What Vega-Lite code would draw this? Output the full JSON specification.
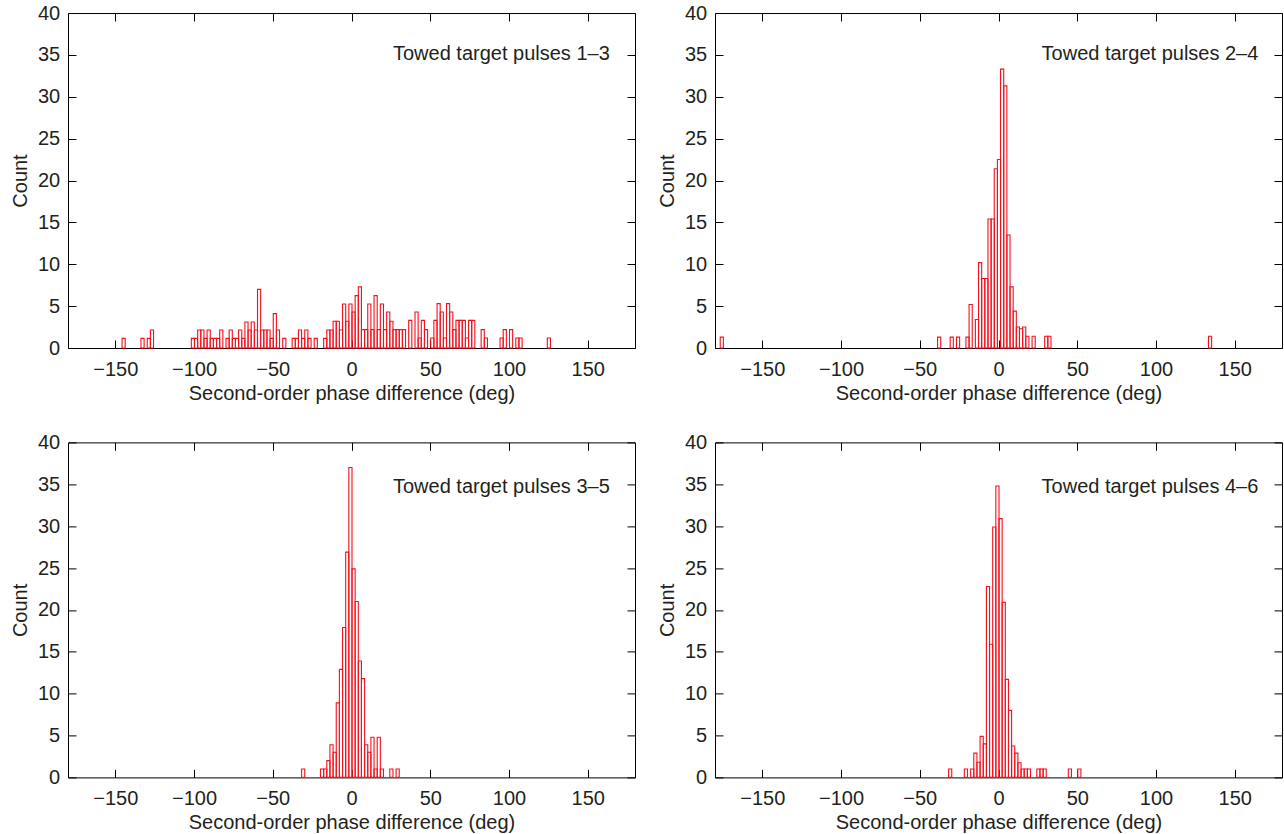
{
  "$schema": "https://vega.github.io/schema/vega-lite/v6.json",
  "background": "white",
  "padding": {"left": 9, "top": 2, "right": 0, "bottom": 0},
  "columns": 2,
  "spacing": {"row": 94.4, "column": 80},
  "bounds": "flush",
  "config": {
    "font": "Liberation Sans",
    "view": {"stroke": "#000000", "strokeWidth": 1},
    "axis": {
      "grid": false, "domain": false, "ticks": true,
      "tickColor": "#000000", "tickSize": 8, "tickWidth": 1, "offset": -8, "zindex": 1,
      "labelFont": "Liberation Sans", "labelFontSize": 20, "labelColor": "#231f20",
      "titleFont": "Liberation Sans", "titleFontSize": 20, "titleFontWeight": "normal", "titleColor": "#231f20"
    },
    "axisX": {"labelPadding": 11.5, "titlePadding": 4},
    "axisY": {"labelPadding": 8.3, "titlePadding": 7, "labelFlush": false}
  },
  "datasets": {
    "p1": [
      {"start": -146, "count": 1.15}, {"start": -134, "count": 1.15}, {"start": -130, "count": 1.15}, {"start": -128, "count": 2.15},
      {"start": -102, "count": 1.15}, {"start": -100, "count": 1.15}, {"start": -98, "count": 2.15}, {"start": -96, "count": 2.15},
      {"start": -94, "count": 1.15}, {"start": -92, "count": 2.15}, {"start": -90, "count": 1.15}, {"start": -88, "count": 1.15},
      {"start": -86, "count": 1.15}, {"start": -84, "count": 2.15}, {"start": -80, "count": 1.15}, {"start": -78, "count": 2.15},
      {"start": -76, "count": 1.15}, {"start": -74, "count": 1.15}, {"start": -72, "count": 2.15}, {"start": -70, "count": 1.15},
      {"start": -68, "count": 3.1}, {"start": -66, "count": 2.15}, {"start": -64, "count": 3.1}, {"start": -62, "count": 2.15},
      {"start": -60, "count": 7.0}, {"start": -58, "count": 2.15}, {"start": -56, "count": 2.15}, {"start": -54, "count": 2.15},
      {"start": -52, "count": 1.15}, {"start": -50, "count": 4.1}, {"start": -48, "count": 2.15}, {"start": -44, "count": 1.15},
      {"start": -38, "count": 1.15}, {"start": -36, "count": 1.15}, {"start": -34, "count": 2.15}, {"start": -32, "count": 1.15},
      {"start": -30, "count": 2.15}, {"start": -28, "count": 1.15}, {"start": -24, "count": 1.15},
      {"start": -18, "count": 1.15}, {"start": -16, "count": 2.15}, {"start": -14, "count": 2.15}, {"start": -12, "count": 3.2},
      {"start": -10, "count": 3.2}, {"start": -8, "count": 2.15}, {"start": -6, "count": 5.25}, {"start": -4, "count": 3.2},
      {"start": -2, "count": 5.25}, {"start": 0, "count": 4.3}, {"start": 2, "count": 6.25}, {"start": 4, "count": 7.3},
      {"start": 6, "count": 2.2}, {"start": 8, "count": 2.2}, {"start": 10, "count": 5.25}, {"start": 12, "count": 2.2},
      {"start": 14, "count": 6.25}, {"start": 16, "count": 2.2}, {"start": 18, "count": 5.25}, {"start": 20, "count": 2.2},
      {"start": 22, "count": 4.3}, {"start": 24, "count": 3.2}, {"start": 26, "count": 2.2}, {"start": 28, "count": 2.2},
      {"start": 30, "count": 2.2}, {"start": 32, "count": 2.2}, {"start": 36, "count": 3.3}, {"start": 40, "count": 4.3},
      {"start": 42, "count": 1.2}, {"start": 44, "count": 3.3}, {"start": 46, "count": 2.2}, {"start": 50, "count": 1.2},
      {"start": 52, "count": 3.3}, {"start": 54, "count": 5.3}, {"start": 56, "count": 4.3}, {"start": 58, "count": 1.2},
      {"start": 60, "count": 5.3}, {"start": 62, "count": 4.3}, {"start": 64, "count": 2.2}, {"start": 66, "count": 3.3},
      {"start": 68, "count": 3.3}, {"start": 70, "count": 3.3}, {"start": 72, "count": 1.2}, {"start": 74, "count": 3.3},
      {"start": 76, "count": 3.3}, {"start": 82, "count": 2.2}, {"start": 84, "count": 1.2}, {"start": 94, "count": 1.2},
      {"start": 96, "count": 2.2}, {"start": 100, "count": 2.2}, {"start": 104, "count": 1.2}, {"start": 106, "count": 1.2},
      {"start": 124, "count": 1.2}
    ],
    "p2": [
      {"start": -177, "count": 1.3}, {"start": -39, "count": 1.3}, {"start": -31, "count": 1.3}, {"start": -27, "count": 1.3},
      {"start": -21, "count": 1.3}, {"start": -19, "count": 5.2}, {"start": -15, "count": 3.4}, {"start": -13, "count": 10.2},
      {"start": -11, "count": 8.3}, {"start": -9, "count": 8.3}, {"start": -7, "count": 15.4}, {"start": -5, "count": 15.4},
      {"start": -3, "count": 21.4}, {"start": -1, "count": 22.5}, {"start": 1, "count": 33.3}, {"start": 3, "count": 31.3},
      {"start": 5, "count": 13.5}, {"start": 7, "count": 7.3}, {"start": 9, "count": 4.4}, {"start": 11, "count": 2.5},
      {"start": 13, "count": 2.3}, {"start": 15, "count": 2.5}, {"start": 17, "count": 1.4}, {"start": 21, "count": 1.4},
      {"start": 29, "count": 1.4}, {"start": 31, "count": 1.4}, {"start": 133, "count": 1.4}
    ],
    "p3": [
      {"start": -32, "count": 1}, {"start": -20, "count": 1}, {"start": -18, "count": 1}, {"start": -16, "count": 2},
      {"start": -14, "count": 3.9}, {"start": -12, "count": 3}, {"start": -10, "count": 8.9}, {"start": -8, "count": 12.9},
      {"start": -6, "count": 17.9}, {"start": -4, "count": 26.9}, {"start": -2, "count": 37}, {"start": 0, "count": 24.9},
      {"start": 2, "count": 21}, {"start": 4, "count": 13.9}, {"start": 6, "count": 11.8}, {"start": 8, "count": 3.9},
      {"start": 10, "count": 3}, {"start": 12, "count": 4.8}, {"start": 14, "count": 1}, {"start": 16, "count": 4.8},
      {"start": 18, "count": 1}, {"start": 24, "count": 1}, {"start": 28, "count": 1}
    ],
    "p4": [
      {"start": -32, "count": 1}, {"start": -22, "count": 1}, {"start": -18, "count": 1}, {"start": -16, "count": 2.9},
      {"start": -14, "count": 1.8}, {"start": -12, "count": 4.9}, {"start": -10, "count": 4.0}, {"start": -8, "count": 22.8},
      {"start": -6, "count": 15.9}, {"start": -4, "count": 29.9}, {"start": -2, "count": 34.8}, {"start": 0, "count": 30.9},
      {"start": 2, "count": 20.9}, {"start": 4, "count": 11.7}, {"start": 6, "count": 8.0}, {"start": 8, "count": 3.75},
      {"start": 10, "count": 2.9}, {"start": 12, "count": 1.75}, {"start": 14, "count": 1}, {"start": 16, "count": 1},
      {"start": 18, "count": 1}, {"start": 24, "count": 1}, {"start": 26, "count": 1}, {"start": 28, "count": 1},
      {"start": 44, "count": 1}, {"start": 50, "count": 1}
    ]
  },
  "concat": [
    {
      "width": 567, "height": 335,
      "layer": [
        {
          "data": {"name": "p1"},
          "mark": {"type": "bar", "filled": false, "color": "#f5101c", "strokeWidth": 1.1, "binSpacing": 0},
          "encoding": {
            "x": {"field": "start", "type": "quantitative", "bin": {"binned": true, "step": 2},
                  "scale": {"domain": [-180, 180], "nice": false, "zero": false},
                  "axis": {"orient": "bottom", "values": [-150, -100, -50, 0, 50, 100, 150], "title": "Second-order phase difference (deg)"}},
            "y": {"field": "count", "type": "quantitative",
                  "scale": {"domain": [0, 40], "nice": false},
                  "axis": {"orient": "left", "values": [0, 5, 10, 15, 20, 25, 30, 35, 40], "title": "Count"}}
          }
        },
        {
          "data": {"values": [{"label": "Towed target pulses 1–3"}]},
          "mark": {"type": "text", "align": "right", "baseline": "alphabetic", "fontSize": 20, "font": "Liberation Sans", "color": "#231f20"},
          "encoding": {
            "x": {"datum": 164, "type": "quantitative", "scale": {"domain": [-180, 180], "nice": false, "zero": false},
                  "axis": {"orient": "top", "values": [-150, -100, -50, 0, 50, 100, 150], "labels": false, "title": null}},
            "y": {"datum": 34.4, "type": "quantitative", "scale": {"domain": [0, 40], "nice": false},
                  "axis": {"orient": "right", "values": [0, 5, 10, 15, 20, 25, 30, 35, 40], "labels": false, "title": null}},
            "text": {"field": "label"}
          }
        }
      ],
      "resolve": {"axis": {"x": "independent", "y": "independent"}}
    },
    {
      "width": 567, "height": 335,
      "layer": [
        {
          "data": {"name": "p2"},
          "mark": {"type": "bar", "filled": false, "color": "#f5101c", "strokeWidth": 1.1, "binSpacing": 0},
          "encoding": {
            "x": {"field": "start", "type": "quantitative", "bin": {"binned": true, "step": 2},
                  "scale": {"domain": [-180, 180], "nice": false, "zero": false},
                  "axis": {"orient": "bottom", "values": [-150, -100, -50, 0, 50, 100, 150], "title": "Second-order phase difference (deg)"}},
            "y": {"field": "count", "type": "quantitative",
                  "scale": {"domain": [0, 40], "nice": false},
                  "axis": {"orient": "left", "values": [0, 5, 10, 15, 20, 25, 30, 35, 40], "title": "Count"}}
          }
        },
        {
          "data": {"values": [{"label": "Towed target pulses 2–4"}]},
          "mark": {"type": "text", "align": "right", "baseline": "alphabetic", "fontSize": 20, "font": "Liberation Sans", "color": "#231f20"},
          "encoding": {
            "x": {"datum": 165, "type": "quantitative", "scale": {"domain": [-180, 180], "nice": false, "zero": false},
                  "axis": {"orient": "top", "values": [-150, -100, -50, 0, 50, 100, 150], "labels": false, "title": null}},
            "y": {"datum": 34.4, "type": "quantitative", "scale": {"domain": [0, 40], "nice": false},
                  "axis": {"orient": "right", "values": [0, 5, 10, 15, 20, 25, 30, 35, 40], "labels": false, "title": null}},
            "text": {"field": "label"}
          }
        }
      ],
      "resolve": {"axis": {"x": "independent", "y": "independent"}}
    },
    {
      "width": 567, "height": 335,
      "layer": [
        {
          "data": {"name": "p3"},
          "mark": {"type": "bar", "filled": false, "color": "#f5101c", "strokeWidth": 1.1, "binSpacing": 0},
          "encoding": {
            "x": {"field": "start", "type": "quantitative", "bin": {"binned": true, "step": 2},
                  "scale": {"domain": [-180, 180], "nice": false, "zero": false},
                  "axis": {"orient": "bottom", "values": [-150, -100, -50, 0, 50, 100, 150], "title": "Second-order phase difference (deg)"}},
            "y": {"field": "count", "type": "quantitative",
                  "scale": {"domain": [0, 40], "nice": false},
                  "axis": {"orient": "left", "values": [0, 5, 10, 15, 20, 25, 30, 35, 40], "title": "Count"}}
          }
        },
        {
          "data": {"values": [{"label": "Towed target pulses 3–5"}]},
          "mark": {"type": "text", "align": "right", "baseline": "alphabetic", "fontSize": 20, "font": "Liberation Sans", "color": "#231f20"},
          "encoding": {
            "x": {"datum": 164, "type": "quantitative", "scale": {"domain": [-180, 180], "nice": false, "zero": false},
                  "axis": {"orient": "top", "values": [-150, -100, -50, 0, 50, 100, 150], "labels": false, "title": null}},
            "y": {"datum": 34.0, "type": "quantitative", "scale": {"domain": [0, 40], "nice": false},
                  "axis": {"orient": "right", "values": [0, 5, 10, 15, 20, 25, 30, 35, 40], "labels": false, "title": null}},
            "text": {"field": "label"}
          }
        }
      ],
      "resolve": {"axis": {"x": "independent", "y": "independent"}}
    },
    {
      "width": 567, "height": 335,
      "layer": [
        {
          "data": {"name": "p4"},
          "mark": {"type": "bar", "filled": false, "color": "#f5101c", "strokeWidth": 1.1, "binSpacing": 0},
          "encoding": {
            "x": {"field": "start", "type": "quantitative", "bin": {"binned": true, "step": 2},
                  "scale": {"domain": [-180, 180], "nice": false, "zero": false},
                  "axis": {"orient": "bottom", "values": [-150, -100, -50, 0, 50, 100, 150], "title": "Second-order phase difference (deg)"}},
            "y": {"field": "count", "type": "quantitative",
                  "scale": {"domain": [0, 40], "nice": false},
                  "axis": {"orient": "left", "values": [0, 5, 10, 15, 20, 25, 30, 35, 40], "title": "Count"}}
          }
        },
        {
          "data": {"values": [{"label": "Towed target pulses 4–6"}]},
          "mark": {"type": "text", "align": "right", "baseline": "alphabetic", "fontSize": 20, "font": "Liberation Sans", "color": "#231f20"},
          "encoding": {
            "x": {"datum": 165, "type": "quantitative", "scale": {"domain": [-180, 180], "nice": false, "zero": false},
                  "axis": {"orient": "top", "values": [-150, -100, -50, 0, 50, 100, 150], "labels": false, "title": null}},
            "y": {"datum": 34.0, "type": "quantitative", "scale": {"domain": [0, 40], "nice": false},
                  "axis": {"orient": "right", "values": [0, 5, 10, 15, 20, 25, 30, 35, 40], "labels": false, "title": null}},
            "text": {"field": "label"}
          }
        }
      ],
      "resolve": {"axis": {"x": "independent", "y": "independent"}}
    }
  ]
}
